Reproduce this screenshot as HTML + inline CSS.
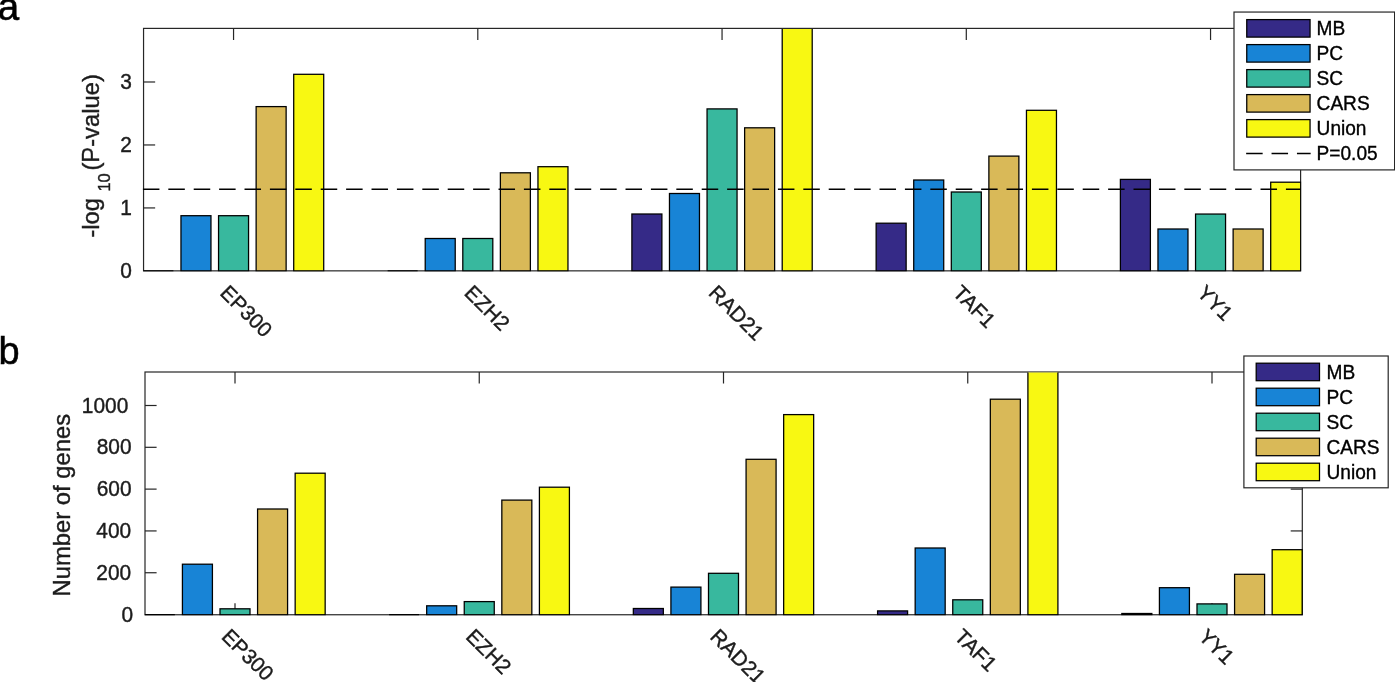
<!DOCTYPE html>
<html lang="en"><head><meta charset="utf-8"><title>Figure</title>
<style>html,body{margin:0;padding:0;background:#fff;overflow:hidden}svg{display:block}</style>
</head><body>
<svg width="1395" height="682" viewBox="0 0 1395 682">
<rect width="1395" height="682" fill="#fff"/>
<rect x="143.55" y="28.4" width="1157.05" height="242.45" fill="none" stroke="#262626" stroke-width="1.2"/>
<path d="M233.55 28.4v11.6M233.55 270.85v-11.6" stroke="#262626" stroke-width="1.2" fill="none"/>
<path d="M477.80 28.4v11.6M477.80 270.85v-11.6" stroke="#262626" stroke-width="1.2" fill="none"/>
<path d="M722.05 28.4v11.6M722.05 270.85v-11.6" stroke="#262626" stroke-width="1.2" fill="none"/>
<path d="M966.30 28.4v11.6M966.30 270.85v-11.6" stroke="#262626" stroke-width="1.2" fill="none"/>
<path d="M1210.55 28.4v11.6M1210.55 270.85v-11.6" stroke="#262626" stroke-width="1.2" fill="none"/>
<path d="M143.55 207.93h11.6" stroke="#262626" stroke-width="1.2" fill="none"/>
<path d="M143.55 144.96h11.6" stroke="#262626" stroke-width="1.2" fill="none"/>
<path d="M143.55 81.99h11.6" stroke="#262626" stroke-width="1.2" fill="none"/>
<path d="M1300.6 207.93h-11.6" stroke="#262626" stroke-width="1.2" fill="none"/>
<path d="M1300.6 144.96h-11.6" stroke="#262626" stroke-width="1.2" fill="none"/>
<path d="M1300.6 81.99h-11.6" stroke="#262626" stroke-width="1.2" fill="none"/>
<clipPath id="cp1"><rect x="142.85" y="28.95" width="1158.45" height="242.60"/></clipPath>
<g stroke="#000" stroke-width="1.27" clip-path="url(#cp1)">
<path d="M143.39 270.85H173.39" fill="none"/>
<rect x="180.97" y="215.70" width="30.0" height="55.15" fill="#1884D6"/>
<rect x="218.55" y="215.70" width="30.0" height="55.15" fill="#38B89E"/>
<rect x="256.13" y="106.60" width="30.0" height="164.25" fill="#D9B958"/>
<rect x="293.71" y="74.30" width="30.0" height="196.55" fill="#F8F812"/>
<path d="M387.64 270.85H417.64" fill="none"/>
<rect x="425.22" y="238.50" width="30.0" height="32.35" fill="#1884D6"/>
<rect x="462.80" y="238.50" width="30.0" height="32.35" fill="#38B89E"/>
<rect x="500.38" y="172.80" width="30.0" height="98.05" fill="#D9B958"/>
<rect x="537.96" y="166.70" width="30.0" height="104.15" fill="#F8F812"/>
<rect x="631.89" y="214.00" width="30.0" height="56.85" fill="#352A87"/>
<rect x="669.47" y="193.50" width="30.0" height="77.35" fill="#1884D6"/>
<rect x="707.05" y="108.90" width="30.0" height="161.95" fill="#38B89E"/>
<rect x="744.63" y="127.80" width="30.0" height="143.05" fill="#D9B958"/>
<rect x="782.21" y="23.40" width="30.0" height="247.45" fill="#F8F812"/>
<rect x="876.14" y="223.20" width="30.0" height="47.65" fill="#352A87"/>
<rect x="913.72" y="180.00" width="30.0" height="90.85" fill="#1884D6"/>
<rect x="951.30" y="192.00" width="30.0" height="78.85" fill="#38B89E"/>
<rect x="988.88" y="156.10" width="30.0" height="114.75" fill="#D9B958"/>
<rect x="1026.46" y="110.30" width="30.0" height="160.55" fill="#F8F812"/>
<rect x="1120.39" y="179.40" width="30.0" height="91.45" fill="#352A87"/>
<rect x="1157.97" y="229.00" width="30.0" height="41.85" fill="#1884D6"/>
<rect x="1195.55" y="214.05" width="30.0" height="56.80" fill="#38B89E"/>
<rect x="1233.13" y="229.00" width="30.0" height="41.85" fill="#D9B958"/>
<rect x="1270.71" y="182.20" width="30.0" height="88.65" fill="#F8F812"/>
</g>
<path d="M142.92 189.25H1300.6" stroke="#000" stroke-width="1.27" stroke-dasharray="16.51 8.89" fill="none"/>
<rect x="145.0" y="372.0" width="1157.30" height="242.75" fill="none" stroke="#262626" stroke-width="1.2"/>
<path d="M235.00 372.0v11.6M235.00 614.75v-11.6" stroke="#262626" stroke-width="1.2" fill="none"/>
<path d="M479.25 372.0v11.6M479.25 614.75v-11.6" stroke="#262626" stroke-width="1.2" fill="none"/>
<path d="M723.50 372.0v11.6M723.50 614.75v-11.6" stroke="#262626" stroke-width="1.2" fill="none"/>
<path d="M967.75 372.0v11.6M967.75 614.75v-11.6" stroke="#262626" stroke-width="1.2" fill="none"/>
<path d="M1212.00 372.0v11.6M1212.00 614.75v-11.6" stroke="#262626" stroke-width="1.2" fill="none"/>
<path d="M145.0 572.74h11.6" stroke="#262626" stroke-width="1.2" fill="none"/>
<path d="M145.0 530.93h11.6" stroke="#262626" stroke-width="1.2" fill="none"/>
<path d="M145.0 489.12h11.6" stroke="#262626" stroke-width="1.2" fill="none"/>
<path d="M145.0 447.31h11.6" stroke="#262626" stroke-width="1.2" fill="none"/>
<path d="M145.0 405.50h11.6" stroke="#262626" stroke-width="1.2" fill="none"/>
<path d="M1302.3 572.74h-11.6" stroke="#262626" stroke-width="1.2" fill="none"/>
<path d="M1302.3 530.93h-11.6" stroke="#262626" stroke-width="1.2" fill="none"/>
<path d="M1302.3 489.12h-11.6" stroke="#262626" stroke-width="1.2" fill="none"/>
<path d="M1302.3 447.31h-11.6" stroke="#262626" stroke-width="1.2" fill="none"/>
<path d="M1302.3 405.50h-11.6" stroke="#262626" stroke-width="1.2" fill="none"/>
<clipPath id="cp2"><rect x="144.30" y="372.55" width="1158.70" height="242.90"/></clipPath>
<g stroke="#000" stroke-width="1.27" clip-path="url(#cp2)">
<path d="M144.84 614.75H174.84" fill="none"/>
<rect x="182.42" y="564.20" width="30.0" height="50.55" fill="#1884D6"/>
<rect x="220.00" y="608.80" width="30.0" height="5.95" fill="#38B89E"/>
<rect x="257.58" y="509.00" width="30.0" height="105.75" fill="#D9B958"/>
<rect x="295.16" y="473.20" width="30.0" height="141.55" fill="#F8F812"/>
<path d="M389.09 614.75H419.09" fill="none"/>
<rect x="426.67" y="605.80" width="30.0" height="8.95" fill="#1884D6"/>
<rect x="464.25" y="601.60" width="30.0" height="13.15" fill="#38B89E"/>
<rect x="501.83" y="500.10" width="30.0" height="114.65" fill="#D9B958"/>
<rect x="539.41" y="487.20" width="30.0" height="127.55" fill="#F8F812"/>
<rect x="633.34" y="608.50" width="30.0" height="6.25" fill="#352A87"/>
<rect x="670.92" y="587.10" width="30.0" height="27.65" fill="#1884D6"/>
<rect x="708.50" y="573.30" width="30.0" height="41.45" fill="#38B89E"/>
<rect x="746.08" y="459.30" width="30.0" height="155.45" fill="#D9B958"/>
<rect x="783.66" y="414.60" width="30.0" height="200.15" fill="#F8F812"/>
<rect x="877.59" y="610.90" width="30.0" height="3.85" fill="#352A87"/>
<rect x="915.17" y="548.00" width="30.0" height="66.75" fill="#1884D6"/>
<rect x="952.75" y="599.80" width="30.0" height="14.95" fill="#38B89E"/>
<rect x="990.33" y="399.20" width="30.0" height="215.55" fill="#D9B958"/>
<rect x="1027.91" y="367.00" width="30.0" height="247.75" fill="#F8F812"/>
<rect x="1121.84" y="613.50" width="30.0" height="1.25" fill="#352A87"/>
<rect x="1159.42" y="587.70" width="30.0" height="27.05" fill="#1884D6"/>
<rect x="1197.00" y="603.90" width="30.0" height="10.85" fill="#38B89E"/>
<rect x="1234.58" y="574.30" width="30.0" height="40.45" fill="#D9B958"/>
<rect x="1272.16" y="549.70" width="30.0" height="65.05" fill="#F8F812"/>
</g>
<g font-family='"Liberation Sans", sans-serif' fill="#1c1c1c" stroke="#1c1c1c" stroke-width="0.4">
<text x="-2.2" y="20.4" font-size="38.5" fill="#000" stroke="#000" stroke-width="0.6">a</text>
<text x="-1.4" y="363.8" font-size="38" fill="#000" stroke="#000" stroke-width="0.5">b</text>
<text transform="translate(132.0 278.40) scale(1 1.055)" font-size="20.9" text-anchor="end">0</text>
<text transform="translate(132.0 215.43) scale(1 1.055)" font-size="20.9" text-anchor="end">1</text>
<text transform="translate(132.0 152.46) scale(1 1.055)" font-size="20.9" text-anchor="end">2</text>
<text transform="translate(132.0 89.49) scale(1 1.055)" font-size="20.9" text-anchor="end">3</text>
<text transform="translate(133.2 621.70) scale(1 1.055)" font-size="20.9" text-anchor="end">0</text>
<text transform="translate(131.2 579.74) scale(1 1.055)" font-size="20.9" text-anchor="end">200</text>
<text transform="translate(131.2 537.93) scale(1 1.055)" font-size="20.9" text-anchor="end">400</text>
<text transform="translate(131.5 496.12) scale(1 1.055)" font-size="20.9" text-anchor="end">600</text>
<text transform="translate(131.5 454.31) scale(1 1.055)" font-size="20.9" text-anchor="end">800</text>
<text transform="translate(128.29999999999998 412.50) scale(1 1.055)" font-size="20.9" text-anchor="end">1000</text>
<text transform="translate(219.05 294.1) rotate(45)" font-size="20.9">EP300</text>
<text transform="translate(463.30 294.1) rotate(45)" font-size="20.9">EZH2</text>
<text transform="translate(707.55 294.1) rotate(45)" font-size="20.9">RAD21</text>
<text transform="translate(951.80 294.1) rotate(45)" font-size="20.9">TAF1</text>
<text transform="translate(1196.05 294.1) rotate(45)" font-size="20.9">YY1</text>
<text transform="translate(220.50 637.7) rotate(45)" font-size="20.9">EP300</text>
<text transform="translate(464.75 637.7) rotate(45)" font-size="20.9">EZH2</text>
<text transform="translate(709.00 637.7) rotate(45)" font-size="20.9">RAD21</text>
<text transform="translate(953.25 637.7) rotate(45)" font-size="20.9">TAF1</text>
<text transform="translate(1197.50 637.7) rotate(45)" font-size="20.9">YY1</text>
<text transform="translate(99.3 237.6) rotate(-90)" font-size="23.8"><tspan x="0" y="0">-log</tspan><tspan x="46" y="11" font-size="16.5">10</tspan><tspan x="67" y="0">(P-value)</tspan></text>
<text transform="translate(70.4 596.5) rotate(-90)" font-size="23.8">Number of genes</text>
</g>
<rect x="1234.0" y="12.05" width="160.6" height="157.85" fill="#fff" stroke="#262626" stroke-width="1.2"/>
<g font-family='"Liberation Sans", sans-serif' font-size="19.1" fill="#000" stroke="#000" stroke-width="0.35">
<rect x="1246.75" y="19.60" width="63.3" height="17.5" fill="#352A87" stroke="#000" stroke-width="1.27"/>
<text transform="translate(1316.6 35.00) scale(1 1.04)">MB</text>
<rect x="1246.75" y="44.60" width="63.3" height="17.5" fill="#1884D6" stroke="#000" stroke-width="1.27"/>
<text transform="translate(1316.6 60.00) scale(1 1.04)">PC</text>
<rect x="1246.75" y="69.60" width="63.3" height="17.5" fill="#38B89E" stroke="#000" stroke-width="1.27"/>
<text transform="translate(1316.6 85.00) scale(1 1.04)">SC</text>
<rect x="1246.75" y="94.60" width="63.3" height="17.5" fill="#D9B958" stroke="#000" stroke-width="1.27"/>
<text transform="translate(1316.6 110.00) scale(1 1.04)">CARS</text>
<rect x="1246.75" y="119.60" width="63.3" height="17.5" fill="#F8F812" stroke="#000" stroke-width="1.27"/>
<text transform="translate(1316.6 135.00) scale(1 1.04)">Union</text>
<path d="M1246.15 153.50h64.5" stroke="#000" stroke-width="1.27" stroke-dasharray="16.51 8.89" fill="none"/>
<text transform="translate(1316.6 160.00) scale(1 1.04)">P=0.05</text>
</g>
<rect x="1243.9" y="356.0" width="144.3" height="131.8" fill="#fff" stroke="#262626" stroke-width="1.2"/>
<g font-family='"Liberation Sans", sans-serif' font-size="19.1" fill="#000" stroke="#000" stroke-width="0.35">
<rect x="1256.2" y="363.20" width="63.3" height="17.5" fill="#352A87" stroke="#000" stroke-width="1.27"/>
<text transform="translate(1326.5 378.50) scale(1 1.04)">MB</text>
<rect x="1256.2" y="388.20" width="63.3" height="17.5" fill="#1884D6" stroke="#000" stroke-width="1.27"/>
<text transform="translate(1326.5 403.50) scale(1 1.04)">PC</text>
<rect x="1256.2" y="413.20" width="63.3" height="17.5" fill="#38B89E" stroke="#000" stroke-width="1.27"/>
<text transform="translate(1326.5 428.50) scale(1 1.04)">SC</text>
<rect x="1256.2" y="438.20" width="63.3" height="17.5" fill="#D9B958" stroke="#000" stroke-width="1.27"/>
<text transform="translate(1326.5 453.50) scale(1 1.04)">CARS</text>
<rect x="1256.2" y="463.20" width="63.3" height="17.5" fill="#F8F812" stroke="#000" stroke-width="1.27"/>
<text transform="translate(1326.5 478.50) scale(1 1.04)">Union</text>
</g>
</svg>
</body></html>
